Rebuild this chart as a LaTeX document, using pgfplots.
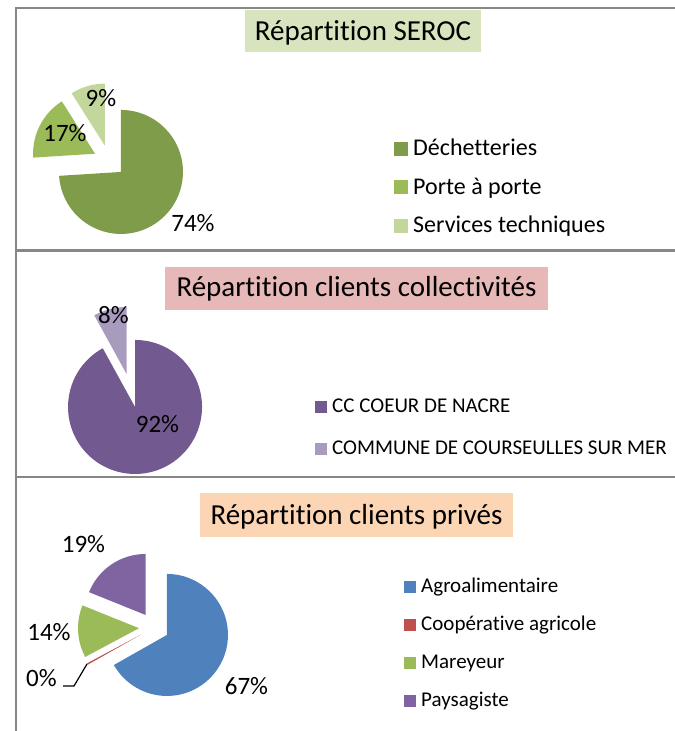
\documentclass[border=0pt]{standalone}
\usepackage{fontspec}
\setmainfont{Carlito}[Ligatures={NoCommon,NoContextual}]
\usepackage{pgfplots}
\pgfplotsset{compat=1.18}

% Excel 2007 palette
\definecolor{dech}{HTML}{7F9C4A}
\definecolor{porte}{HTML}{9BBB59}
\definecolor{serv}{HTML}{C3D69B}
\definecolor{ccnacre}{HTML}{725A91}
\definecolor{courseulles}{HTML}{A99BBD}
\definecolor{agro}{HTML}{4F81BD}
\definecolor{coop}{HTML}{C0504D}
\definecolor{mareyeur}{HTML}{9BBB59}
\definecolor{paysag}{HTML}{8064A2}
\definecolor{titleA}{HTML}{D7E4BD}
\definecolor{titleB}{HTML}{E6B9B8}
\definecolor{titleC}{HTML}{FCD5B5}
\definecolor{frame}{HTML}{878787}

% one exploded slice: cx, cy, radius, explode, start (%), value (%), colour
\newcommand{\slice}[7]{%
  \fill[#7] (axis cs:{#1+#4*cos(90-3.6*(#5+0.5*(#6)))},{#2+#4*sin(90-3.6*(#5+0.5*(#6)))})
    -- ++({90-3.6*(#5)}:#3bp)
    arc[start angle={90-3.6*(#5)}, end angle={90-3.6*(#5+#6)}, radius=#3bp] -- cycle;}
\newcommand{\key}[5]{% x, baseline, size, colour, text
  \fill[#4] (axis cs:#1,#2) rectangle (axis cs:{#1+#3},{#2+#3});
  \node[anchor=base west, inner sep=0pt] at (axis cs:{#1+#3+5},#2) {#5};}

\pgfplotsset{panel/.style={scale only axis, x=1bp, y=1bp,
  xmin=0, xmax=675, ymin=0, ymax=731, hide axis, clip=false,
  at={(0,0)}, anchor=origin}}

\begin{document}
\begin{tikzpicture}
\useasboundingbox (0,0) rectangle (675bp,731bp);

% frame
\draw[frame, line width=2.2bp] (16bp,0) -- (16bp,723bp) -- (675bp,723bp);
\draw[frame, line width=2.2bp] (16bp,480.5bp) -- (675bp,480.5bp);
\draw[frame, line width=2.2bp] (16bp,254bp) -- (675bp,254bp);

% --- Répartition SEROC
\begin{axis}[panel]
\fill[titleA] (axis cs:245,679) rectangle (axis cs:481,721);
\node[anchor=base, inner sep=0pt, font=\fontsize{29bp}{34bp}\selectfont]
  at (axis cs:363,690) {Répartition SEROC};
\slice{109.3}{570}{62}{16}{0}{74}{dech}
\slice{109.3}{570}{62}{16}{74}{17}{porte}
\slice{109.3}{570}{62}{16}{91}{9}{serv}
\begin{scope}[every node/.style={anchor=base, inner sep=0pt, font=\fontsize{25bp}{30bp}\selectfont}]
\node at (axis cs:193,499) {74\%};
\node at (axis cs:65,589) {17\%};
\node at (axis cs:101,624) {9\%};
\end{scope}
\begin{scope}[font=\fontsize{24bp}{29bp}\selectfont]
\key{394}{575}{14}{dech}{Déchetteries}
\key{394}{536.5}{14}{porte}{Porte à porte}
\key{394}{498}{14}{serv}{Services techniques}
\end{scope}
\end{axis}

% --- Répartition clients collectivités
\begin{axis}[panel]
\fill[titleB] (axis cs:165,421) rectangle (axis cs:548,464);
\node[anchor=base, inner sep=0pt, font=\fontsize{29bp}{34bp}\selectfont]
  at (axis cs:356.5,434) {Répartition clients collectivités};
\slice{130.8}{340.5}{67}{17}{0}{92}{ccnacre}
\slice{130.8}{340.5}{67}{17}{92}{8}{courseulles}
\begin{scope}[every node/.style={anchor=base, inner sep=0pt, font=\fontsize{25bp}{30bp}\selectfont}]
\node at (axis cs:113.5,407) {8\%};
\node at (axis cs:157.5,298) {92\%};
\end{scope}
\begin{scope}[font=\fontsize{21bp}{25bp}\selectfont]
\key{315}{318}{12}{ccnacre}{CC COEUR DE NACRE}
\key{315}{276}{12}{courseulles}{COMMUNE DE COURSEULLES SUR MER}
\end{scope}
\end{axis}

% --- Répartition clients privés
\begin{axis}[panel]
\fill[titleC] (axis cs:200,194) rectangle (axis cs:513,238);
\node[anchor=base, inner sep=0pt, font=\fontsize{29bp}{34bp}\selectfont]
  at (axis cs:356.5,206) {Répartition clients privés};
\slice{154}{103.6}{61}{15}{0}{66.8}{agro}
\slice{154}{103.6}{61}{15}{66.8}{0.4}{coop}
\slice{154}{103.6}{61}{15}{67.2}{13.9}{mareyeur}
\slice{154}{103.6}{61}{15}{81.1}{18.9}{paysag}
\draw[black, line width=1.2bp] (axis cs:63,45) -- (axis cs:74,45) -- (axis cs:87,67);
\begin{scope}[every node/.style={anchor=base, inner sep=0pt, font=\fontsize{25bp}{30bp}\selectfont}]
\node at (axis cs:83.5,178) {19\%};
\node at (axis cs:49,90) {14\%};
\node at (axis cs:41.5,44) {0\%};
\node at (axis cs:246.5,36) {67\%};
\end{scope}
\begin{scope}[font=\fontsize{21bp}{25bp}\selectfont]
\key{404}{138}{12}{agro}{Agroalimentaire}
\key{404}{100}{12}{coop}{Coopérative agricole}
\key{404}{62}{12}{mareyeur}{Mareyeur}
\key{404}{24}{12}{paysag}{Paysagiste}
\end{scope}
\end{axis}
\end{tikzpicture}
\end{document}
